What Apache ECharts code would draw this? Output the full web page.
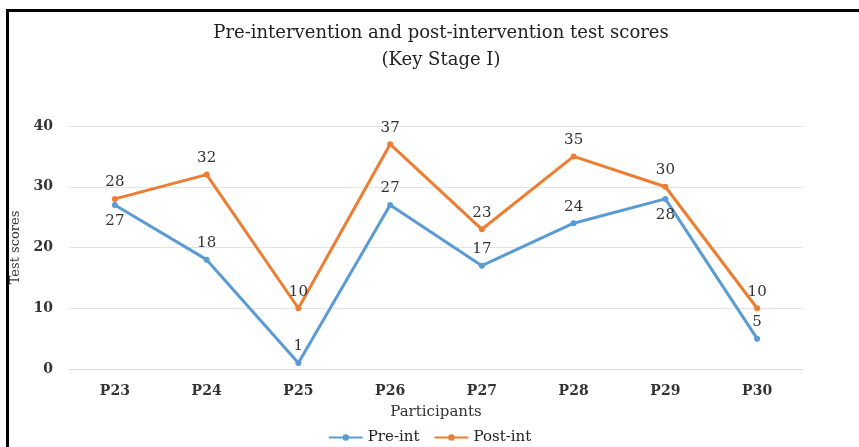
<!DOCTYPE html>
<html>
<head>
<meta charset="utf-8">
<script src="https://cdn.jsdelivr.net/npm/echarts@6/dist/echarts.min.js"></script>
<style>
  html, body { margin: 0; padding: 0; background: #fff; }
  #frame { position: absolute; left: 6px; top: 9px; width: 900px; height: 500px;
           border-left: 3px solid #000; border-top: 3px solid #000; }
  #chart { position: absolute; left: 0; top: 0; width: 859px; height: 447px; }
</style>
</head>
<body>
<div id="frame"></div>
<div id="chart"></div>
<script>
// 参与者及前后测成绩
const participants = ["P23", "P24", "P25", "P26", "P27", "P28", "P29", "P30"];
const preInt = [27, 18, 1, 27, 17, 24, 28, 5];
const postInt = [28, 32, 10, 37, 23, 35, 30, 10];
// 前测标签位置（上/下）
const prePos = ["bottom", "top", "top", "top", "top", "top", "bottom", "top"];

const serif = "'DejaVu Serif', 'Liberation Serif', serif";

const chartBox = echarts.init(document.getElementById("chart"), null, { renderer: "canvas" });

const option = {
  backgroundColor: "transparent",
  title: {
    text: "Pre-intervention and post-intervention test scores\n(Key Stage I)",
    left: 436,
    textAlign: "center",
    top: 15,
    textStyle: { fontFamily: serif, fontSize: 18, fontWeight: "normal", color: "#222", lineHeight: 27 },
  },
  legend: {
    bottom: -3,
    left: "center",
    itemWidth: 34,
    itemHeight: 8,
    itemGap: 14,
    textStyle: { fontFamily: serif, fontSize: 15, color: "#222" },
    data: ["Pre-int", "Post-int"],
  },
  grid: { left: 69, right: 56, top: 126, bottom: 78 },
  xAxis: {
    type: "category",
    data: participants,
    name: "Participants",
    nameLocation: "middle",
    nameGap: 36,
    nameTextStyle: { fontFamily: serif, fontSize: 15, color: "#333" },
    axisLine: { show: true, lineStyle: { color: "#d9d9d9", width: 1 } },
    axisTick: { show: false },
    axisLabel: { fontFamily: serif, fontSize: 14, fontWeight: "bold", color: "#333", margin: 15 },
  },
  yAxis: {
    type: "value",
    min: 0,
    max: 40,
    interval: 10,
    name: "Test scores",
    nameLocation: "middle",
    nameGap: 46,
    nameTextStyle: { fontFamily: serif, fontSize: 13, color: "#333" },
    axisLine: { show: false },
    axisTick: { show: false },
    axisLabel: { fontFamily: serif, fontSize: 14, fontWeight: "bold", color: "#333", margin: 16 },
    splitLine: { lineStyle: { color: "#e3e3e3", width: 1 } },
  },
  series: [
    {
      name: "Pre-int",
      type: "line",
      data: preInt.map((v, i) => ({ value: v, label: { position: prePos[i] } })),
      symbol: "circle",
      symbolSize: 6,
      lineStyle: { width: 3, color: "#5B9BD5" },
      itemStyle: { color: "#5B9BD5" },
      label: { show: true, fontFamily: serif, fontSize: 15, color: "#333", distance: 6 },
    },
    {
      name: "Post-int",
      type: "line",
      data: postInt,
      symbol: "circle",
      symbolSize: 6,
      lineStyle: { width: 3, color: "#ED7D31" },
      itemStyle: { color: "#ED7D31" },
      label: { show: true, position: "top", fontFamily: serif, fontSize: 15, color: "#333", distance: 6 },
    },
  ],
};

chartBox.setOption(option);
</script>
</body>
</html>
